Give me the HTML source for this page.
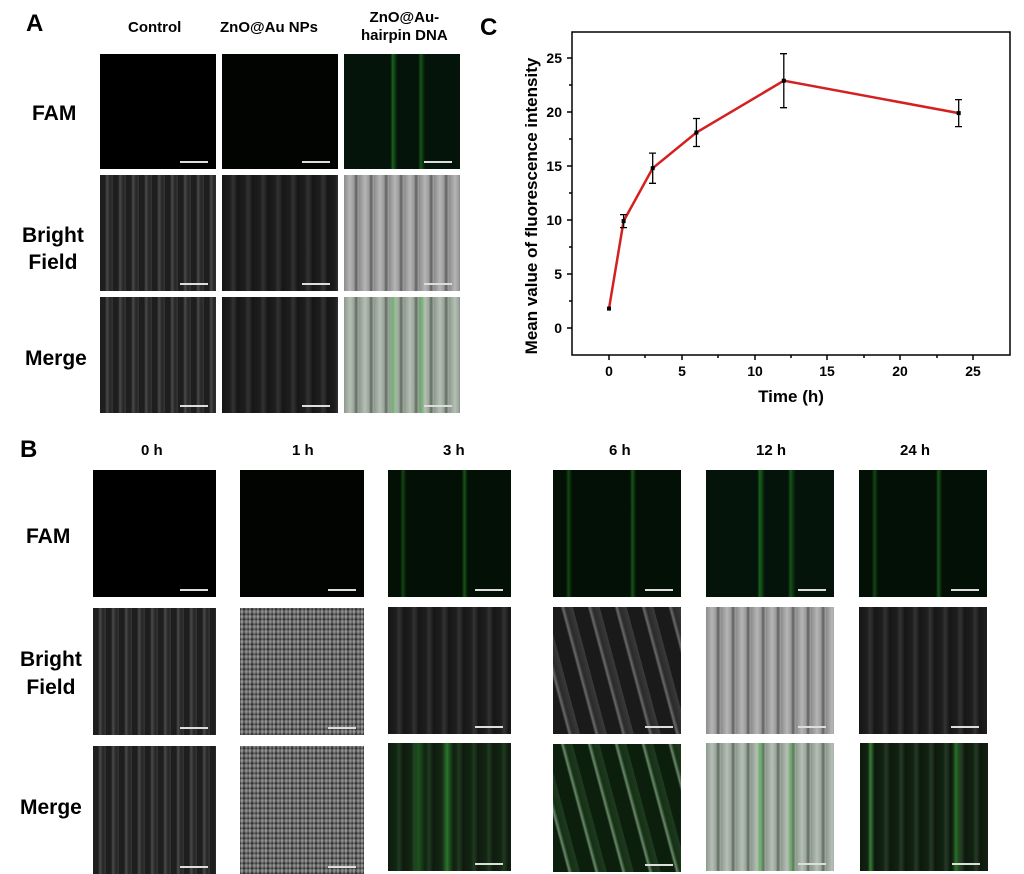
<!DOCTYPE html>
<html><head><meta charset="utf-8"><style>
body{margin:0;width:1024px;height:874px;background:#fff;position:relative;overflow:hidden;font-family:"Liberation Sans",Arial,sans-serif;font-weight:bold;color:#000}
.t{position:absolute;white-space:nowrap}
.im{position:absolute;overflow:hidden}
.im:after{content:"";position:absolute;right:8px;bottom:6px;width:28px;height:2px;background:#ddd}
.fam0{background:#000}
.famw{background:#010401}
.famg{background:linear-gradient(90deg,rgba(0,0,0,0) 0,rgba(0,0,0,0) 40%,rgba(40,160,40,.55) 42%,rgba(0,0,0,0) 46%,rgba(0,0,0,0) 64%,rgba(40,160,40,.45) 66%,rgba(0,0,0,0) 70%),#04140a}
.famg2{background:linear-gradient(90deg,transparent 10%,rgba(40,150,40,.4) 12%,transparent 15%,transparent 60%,rgba(40,150,40,.5) 62%,transparent 65%),#031005}
.bfd{background:repeating-linear-gradient(90deg,#1e1e1e 0,#1e1e1e 5px,#4a4a4a 7px,#262626 10px,#353535 13px),#2a2a2a}
.bfl{background:repeating-linear-gradient(90deg,#8c8c8c 0,#b5b5b5 6px,#9a9a9a 10px,#5e5e5e 12px,#a5a5a5 15px)}
.bfm{background:repeating-linear-gradient(0deg,rgba(0,0,0,.35) 0,rgba(0,0,0,0) 2px,rgba(255,255,255,.2) 3px,rgba(0,0,0,0) 5px),repeating-linear-gradient(90deg,#3a3a3a 0,#9a9a9a 2px,#2c2c2c 4px,#8a8a8a 6px,#555 8px)}
.bfs{background:repeating-linear-gradient(75deg,#1a1a1a 0,#1a1a1a 14px,#6a6a6a 16px,#2a2a2a 19px,#3a3a3a 26px)}
.bfk{background:repeating-linear-gradient(90deg,#161616 0,#1e1e1e 8px,#333 11px,#1c1c1c 15px)}
.mgl{background:linear-gradient(90deg,transparent 40%,rgba(60,180,60,.5) 42%,transparent 46%,transparent 64%,rgba(60,180,60,.45) 66%,transparent 70%),repeating-linear-gradient(90deg,#8c9a8c 0,#b5bfb5 6px,#9aa59a 10px,#5e6a5e 12px,#a5afa5 15px)}
.mgg{background:linear-gradient(90deg,transparent 20%,rgba(50,170,50,.4) 25%,transparent 30%,transparent 45%,rgba(60,190,60,.55) 48%,transparent 53%),repeating-linear-gradient(90deg,#0e1a0e 0,#122612 8px,#203a20 11px,#0f1c0f 15px)}
.mgs{background:repeating-linear-gradient(75deg,#0c1e0c 0,#0c1e0c 14px,#6a8a6a 16px,#163016 19px,#1e3a1e 26px)}
.mgk{background:linear-gradient(90deg,transparent 6%,rgba(60,180,60,.55) 8%,transparent 11%,transparent 72%,rgba(60,180,60,.55) 75%,transparent 79%),repeating-linear-gradient(90deg,#0c1a0c 0,#122212 8px,#263a26 11px,#0f1c0f 15px)}
.rl{font-size:21px}
</style></head><body>
<div class="t" style="left:26px;top:10px;font-size:24px">A</div>
<div class="t" style="left:20px;top:436px;font-size:24px">B</div>
<div class="t" style="left:480px;top:14px;font-size:24px">C</div>

<div class="t" style="left:128px;top:19px;font-size:15px">Control</div>
<div class="t" style="left:220px;top:19px;font-size:15px">ZnO@Au NPs</div>
<div class="t" style="left:361px;top:9px;font-size:15px;text-align:center;line-height:18px">ZnO@Au-<br>hairpin DNA</div>
<div class="t rl" style="left:32px;top:102px">FAM</div>
<div class="t rl" style="left:22px;top:222px;text-align:center;line-height:27px">Bright<br>Field</div>
<div class="t rl" style="left:25px;top:347px">Merge</div>

<div class="im fam0" style="left:100px;top:54px;width:116px;height:115px"></div>
<div class="im famw" style="left:222px;top:54px;width:116px;height:115px"></div>
<div class="im famg" style="left:344px;top:54px;width:116px;height:115px"></div>
<div class="im bfd" style="left:100px;top:175px;width:116px;height:116px"></div>
<div class="im bfk" style="left:222px;top:175px;width:116px;height:116px"></div>
<div class="im bfl" style="left:344px;top:175px;width:116px;height:116px"></div>
<div class="im bfd" style="left:100px;top:297px;width:116px;height:116px"></div>
<div class="im bfk" style="left:222px;top:297px;width:116px;height:116px"></div>
<div class="im mgl" style="left:344px;top:297px;width:116px;height:116px"></div>

<div class="t" style="left:141px;top:442px;font-size:15px">0 h</div>
<div class="t" style="left:292px;top:442px;font-size:15px">1 h</div>
<div class="t" style="left:443px;top:442px;font-size:15px">3 h</div>
<div class="t" style="left:609px;top:442px;font-size:15px">6 h</div>
<div class="t" style="left:756px;top:442px;font-size:15px">12 h</div>
<div class="t" style="left:900px;top:442px;font-size:15px">24 h</div>
<div class="t rl" style="left:26px;top:525px">FAM</div>
<div class="t rl" style="left:20px;top:646px;text-align:center;line-height:28px">Bright<br>Field</div>
<div class="t rl" style="left:20px;top:796px">Merge</div>

<div class="im fam0" style="left:93px;top:470px;width:123px;height:127px"></div>
<div class="im famw" style="left:240px;top:470px;width:124px;height:127px"></div>
<div class="im famg2" style="left:388px;top:470px;width:123px;height:127px"></div>
<div class="im famg2" style="left:553px;top:470px;width:128px;height:127px"></div>
<div class="im famg" style="left:706px;top:470px;width:128px;height:127px"></div>
<div class="im famg2" style="left:859px;top:470px;width:128px;height:127px"></div>

<div class="im bfd" style="left:93px;top:608px;width:123px;height:127px"></div>
<div class="im bfm" style="left:240px;top:608px;width:124px;height:127px"></div>
<div class="im bfk" style="left:388px;top:607px;width:123px;height:127px"></div>
<div class="im bfs" style="left:553px;top:607px;width:128px;height:127px"></div>
<div class="im bfl" style="left:706px;top:607px;width:128px;height:127px"></div>
<div class="im bfk" style="left:859px;top:607px;width:128px;height:127px"></div>

<div class="im bfd" style="left:93px;top:746px;width:123px;height:128px"></div>
<div class="im bfm" style="left:240px;top:746px;width:124px;height:128px"></div>
<div class="im mgg" style="left:388px;top:743px;width:123px;height:128px"></div>
<div class="im mgs" style="left:553px;top:744px;width:128px;height:128px"></div>
<div class="im mgl" style="left:706px;top:743px;width:128px;height:128px"></div>
<div class="im mgk" style="left:860px;top:743px;width:128px;height:128px"></div>

<svg style="position:absolute;left:0;top:0" width="1024" height="874">
<g stroke="#000" stroke-width="1.5" fill="none">
<rect x="572" y="32" width="438" height="323"/>
<path d="M609 355v5M682 355v5M755 355v5M827 355v5M900 355v5M973 355v5M645 355v3M718 355v3M791 355v3M864 355v3M937 355v3"/>
<path d="M572 328h-5M572 274h-5M572 220h-5M572 166h-5M572 112h-5M572 58h-5M572 301h-3M572 247h-3M572 193h-3M572 139h-3M572 85h-3"/>
</g>
<g font-family="Liberation Sans,Arial,sans-serif" font-weight="bold" font-size="14" text-anchor="middle">
<text x="609" y="376">0</text><text x="682" y="376">5</text><text x="755" y="376">10</text><text x="827" y="376">15</text><text x="900" y="376">20</text><text x="973" y="376">25</text>
</g>
<g font-family="Liberation Sans,Arial,sans-serif" font-weight="bold" font-size="14" text-anchor="end">
<text x="562" y="333">0</text><text x="562" y="279">5</text><text x="562" y="225">10</text><text x="562" y="171">15</text><text x="562" y="117">20</text><text x="562" y="63">25</text>
</g>
<text x="791" y="402" font-family="Liberation Sans,Arial,sans-serif" font-weight="bold" font-size="17" text-anchor="middle">Time (h)</text>
<text transform="translate(537,206) rotate(-90)" font-family="Liberation Sans,Arial,sans-serif" font-weight="bold" font-size="17" text-anchor="middle">Mean value of fluorescence intensity</text>
<polyline points="609,308.6 623.6,221.1 652.7,168.2 696.4,132.5 783.8,80.7 958.7,113.1" fill="none" stroke="#d42020" stroke-width="2.5"/>
<g stroke="#000" stroke-width="1.3">
<path d="M623.6 214.6v13M620 214.6h7M620 227.6h7"/>
<path d="M652.7 153.1v30.2M649 153.1h7M649 183.3h7"/>
<path d="M696.4 118.5v28M693 118.5h7M693 146.5h7"/>
<path d="M783.8 53.7v54M780 53.7h7M780 107.7h7"/>
<path d="M958.7 99.6v27M955 99.6h7M955 126.6h7"/>
</g>
<g fill="#000">
<rect x="607" y="306.6" width="4" height="4"/><rect x="621.6" y="219.1" width="4" height="4"/><rect x="650.7" y="166.2" width="4" height="4"/><rect x="694.4" y="130.5" width="4" height="4"/><rect x="781.8" y="78.7" width="4" height="4"/><rect x="956.7" y="111.1" width="4" height="4"/>
</g>
</svg>
</body></html>
